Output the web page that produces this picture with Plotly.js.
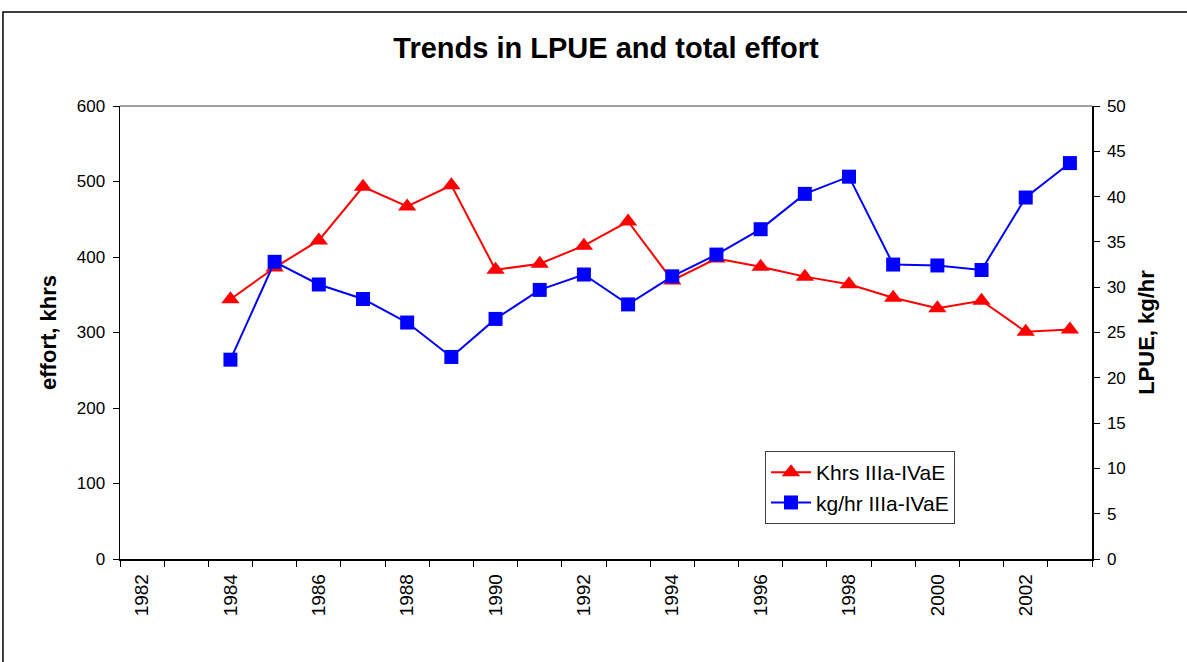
<!DOCTYPE html>
<html>
<head>
<meta charset="utf-8">
<script src="https://cdn.plot.ly/plotly-3.0.1.min.js"></script>
<style>html,body{margin:0;padding:0;background:#fff;}#chart{width:1187px;height:662px;}</style>
</head>
<body>
<div id="chart"></div>
<script>
const years = [1984,1985,1986,1987,1988,1989,1990,1991,1992,1993,1994,1995,1996,1997,1998,1999,2000,2001,2002,2003];
const khrs = [344,386,422,493,467,495,383,391,415,447,369,398,387,374,364,346,332,342,301,304];
const kgPerHr = [22.0,32.8,30.3,28.7,26.1,22.3,26.5,29.7,31.4,28.1,31.2,33.6,36.4,40.3,42.2,32.5,32.4,31.9,39.9,43.7];
const tickYears = [1982,1984,1986,1988,1990,1992,1994,1996,1998,2000,2002];
const boundaryYears = [1981.5,1982.5,1983.5,1984.5,1985.5,1986.5,1987.5,1988.5,1989.5,1990.5,1991.5,1992.5,1993.5,1994.5,1995.5,1996.5,1997.5,1998.5,1999.5,2000.5,2001.5,2002.5,2003.5];

const font = "Liberation Sans, Arial, sans-serif";

const traces = [
  {x: years, y: khrs, name: 'Khrs IIIa-IVaE', type: 'scatter', mode: 'lines+markers',
   line: {color: '#ff0000', width: 2}, marker: {symbol: 'triangle-up', size: 16, color: '#ff0000'}, yaxis: 'y'},
  {x: years, y: kgPerHr, name: 'kg/hr IIIa-IVaE', type: 'scatter', mode: 'lines+markers',
   line: {color: '#0000ff', width: 2}, marker: {symbol: 'square', size: 14, color: '#0000ff'}, yaxis: 'y2'}
];

const layout = {
  width: 1187, height: 662,
  margin: {l: 120, r: 95, t: 106, b: 103},
  paper_bgcolor: '#fff', plot_bgcolor: '#fff',
  font: {family: font, size: 16, color: '#000'},
  title: {text: '<b>Trends in LPUE and total effort</b>', font: {family: font, size: 29, color: '#000'}, xref: 'paper', x: 0.5, xanchor: 'center', y: 0.927, yanchor: 'middle'},
  showlegend: true,
  legend: {x: 0.6636, y: 0.2384, xanchor: 'left', yanchor: 'top', bgcolor: '#fff', bordercolor: '#404040', borderwidth: 1,
           font: {family: font, size: 21, color: '#000'}, tracegroupgap: 0, itemwidth: 40},
  xaxis: {
    range: [1981.5, 2003.5], tickmode: 'array', tickvals: tickYears, ticktext: tickYears.map(String),
    tickangle: -90, ticks: '', showgrid: false, zeroline: false,
    showline: true, linecolor: '#000', linewidth: 1.5,
    tickfont: {family: font, size: 19, color: '#000'}, ticklabelstandoff: 6,
    minor: {tickmode: 'array', tickvals: boundaryYears, ticks: 'outside', ticklen: 6, tickcolor: '#000', tickwidth: 1, showgrid: false}
  },
  yaxis: {
    range: [0, 600], tickvals: [0,100,200,300,400,500,600], ticks: 'outside', ticklen: 6, tickcolor: '#000',
    showgrid: false, zeroline: false, showline: true, linecolor: '#000', linewidth: 1.5,
    tickfont: {family: font, size: 17, color: '#000'}, ticklabelstandoff: 4,
    title: {text: '<b>effort, khrs</b>', font: {family: font, size: 22, color: '#000'}, standoff: 14}
  },
  yaxis2: {
    range: [0, 50], tickvals: [0,5,10,15,20,25,30,35,40,45,50], ticks: 'outside', ticklen: 6, tickcolor: '#000',
    overlaying: 'y', side: 'right', showgrid: false, zeroline: false, showline: true, linecolor: '#000', linewidth: 1.5,
    tickfont: {family: font, size: 17, color: '#000'}, ticklabelstandoff: 4,
    title: {text: '<b>LPUE, kg/hr</b>', font: {family: font, size: 22, color: '#000'}, standoff: 14}
  },
  shapes: [
    {type: 'line', xref: 'paper', yref: 'paper', x0: 0, x1: 1, y0: 1, y1: 1, line: {color: '#808080', width: 1.5}},
    {type: 'rect', xref: 'paper', yref: 'paper', x0: -0.1204, x1: 1.2, y0: -0.4, y1: 1.2075, line: {color: '#000', width: 1.5}, fillcolor: 'rgba(0,0,0,0)', layer: 'below'}
  ]
};

Plotly.newPlot('chart', traces, layout, {displayModeBar: false, staticPlot: true});
</script>
</body>
</html>
